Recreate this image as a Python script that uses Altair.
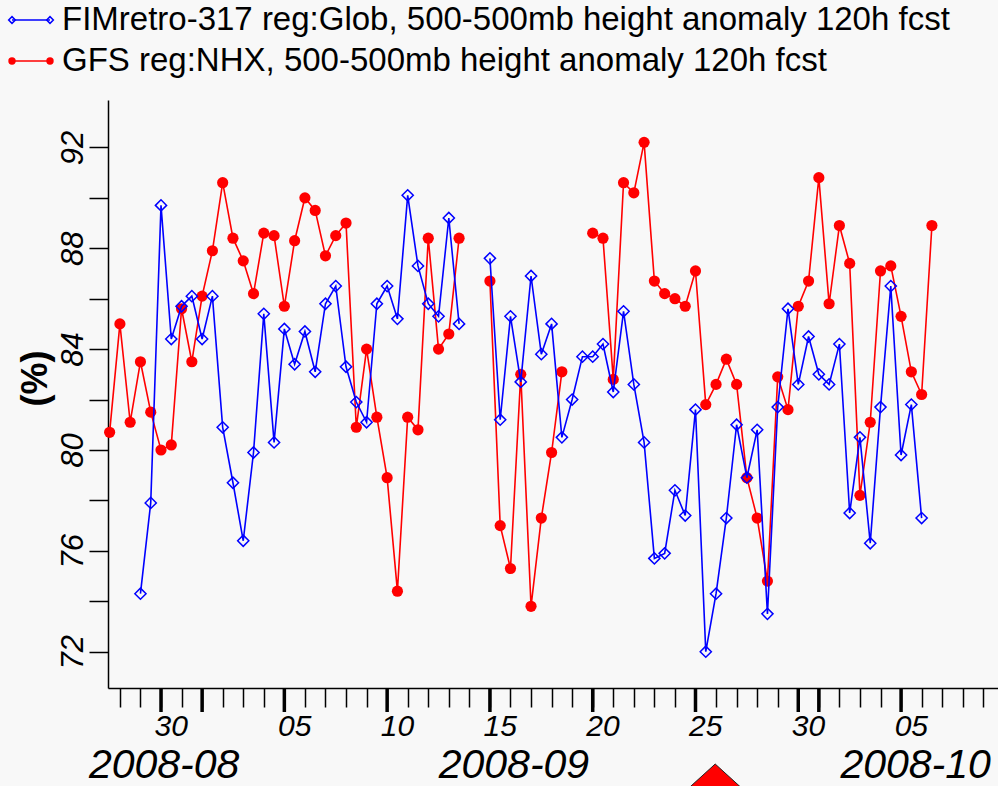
import altair as alt
import pandas as pd

# ---------------- data ----------------
start_time = "2008-08-27 12:00"   # first sample, 12-hourly samples
fim_name = "FIMretro-317 reg:Glob, 500-500mb height anomaly 120h fcst"
gfs_name = "GFS reg:NHX, 500-500mb height anomaly 120h fcst"

fim = [None, None, None, 74.3, 77.9, 89.7, 84.4, 85.7, 86.1, 84.4,
       86.1, 80.9, 78.7, 76.4, 79.9, 85.4, 80.3, 84.8, 83.4, 84.7,
       83.1, 85.8, 86.5, 83.3, 81.9, 81.1, 85.8, 86.5, 85.2, 90.1,
       87.3, 85.8, 85.3, 89.2, 85.0, None, None, 87.6, 81.2, 85.3,
       82.7, 86.9, 83.8, 85.0, 80.5, 82.0, 83.7, 83.7, 84.2, 82.3,
       85.5, 82.6, 80.3, 75.7, 75.9, 78.4, 77.4, 81.6, 72.0, 74.3,
       77.3, 81.0, 78.9, 80.8, 73.5, 81.7, 85.6, 82.6, 84.5, 83.0,
       82.6, 84.2, 77.5, 80.5, 76.3, 81.7, 86.5, 79.8, 81.8, 77.3,
       None]

gfs = [80.7, 85.0, 81.1, 83.5, 81.5, 80.0, 80.2, 85.6, 83.5, 86.1,
       87.9, 90.6, 88.4, 87.5, 86.2, 88.6, 88.5, 85.7, 88.3, 90.0,
       89.5, 87.7, 88.5, 89.0, 80.9, 84.0, 81.3, 78.9, 74.4, 81.3,
       80.8, 88.4, 84.0, 84.6, 88.4, None, None, 86.7, 77.0, 75.3,
       83.0, 73.8, 77.3, 79.9, 83.1, None, None, 88.6, 88.4, 82.8,
       90.6, 90.2, 92.2, 86.7, 86.2, 86.0, 85.7, 87.1, 81.8, 82.6,
       83.6, 82.6, 78.9, 77.3, 74.8, 82.9, 81.6, 85.7, 86.7, 90.8,
       85.8, 88.9, 87.4, 78.2, 81.1, 87.1, 87.3, 85.3, 83.1, 82.2,
       88.9]

x_range = ["2008-08-27 10:07", "2008-10-09 17:10"]
y_range = [70.56, 93.88]
y_ticks = [72, 74, 76, 78, 80, 82, 84, 86, 88, 90, 92]

first_tick, last_tick = "2008-08-28", "2008-10-09"
major_ticks = ["2008-08-30", "2008-09-01", "2008-09-05", "2008-09-10", "2008-09-15",
               "2008-09-20", "2008-09-25", "2008-09-30", "2008-10-01", "2008-10-05"]
day_label_dates = ["2008-08-30", "2008-09-05", "2008-09-10", "2008-09-15",
                   "2008-09-20", "2008-09-25", "2008-09-30", "2008-10-05"]
day_labels = ["30", "05", "10", "15", "20", "25", "30", "05"]
month_label_dates = ["2008-08-30 03:40", "2008-09-16 04:00", "2008-10-05 17:00"]
month_labels = ["2008-08", "2008-09", "2008-10"]
marker_dates = ["2008-09-25 23:00"]   # red slider marker under the axis

# ---------------- helpers ----------------
T0 = pd.Timestamp("2008-08-30")


def days(t):
    return float((pd.Timestamp(t) - T0) / pd.Timedelta(days=1))


times = pd.date_range(start_time, periods=len(gfs), freq="12h")


def series_frame(vals):
    rows, seg = [], 0
    for t, v in zip(times, vals):
        if v is None:
            seg += 1
            continue
        rows.append({"d": days(t), "v": v, "seg": seg})
    return pd.DataFrame(rows)


fim_df = series_frame(fim)
gfs_df = series_frame(gfs)

tick_df = pd.DataFrame({"d": [days(t) for t in pd.date_range(first_tick, last_tick, freq="D")]})
major_df = pd.DataFrame({"d": [days(t) for t in major_ticks]})
daylab_df = pd.DataFrame({"d": [days(t) + 0.5 for t in day_label_dates], "lab": day_labels})
monlab_df = pd.DataFrame({"d": [days(t) for t in month_label_dates], "lab": month_labels})
marker_df = pd.DataFrame({"d": [days(t) for t in marker_dates]})

W, H = 890, 588
FONT = "Liberation Sans"

x_axis = alt.Axis(values=list(tick_df["d"]), labels=False, title=None, grid=False,
                  tickSize=19, tickWidth=1.5, tickColor="black",
                  domainColor="black", domainWidth=1.5)
X = alt.X("d:Q", scale=alt.Scale(domain=[days(x_range[0]), days(x_range[1])], nice=False, zero=False),
          axis=x_axis)

y_axis = alt.Axis(values=y_ticks, labelExpr="datum.value % 4 == 0 ? datum.label : ''",
                  labelAngle=-90, labelAlign="center", labelBaseline="alphabetic",
                  labelPadding=7, labelFont=FONT, labelFontStyle="italic", labelFontSize=31,
                  labelColor="black", labelOverlap=False,
                  tickSize=19, tickWidth=1.5, tickColor="black",
                  domainColor="black", domainWidth=1.5, grid=False,
                  title="(%)", titleFont=FONT, titleFontSize=36, titleFontWeight="bold",
                  titleColor="black", titleAngle=270, titleAlign="center", titleBaseline="middle",
                  titleX=-73, titleY=278)
Y = alt.Y("v:Q", scale=alt.Scale(domain=y_range, nice=False, zero=False), axis=y_axis)

BLUE, RED = "#0000ff", "#ff0000"

gfs_line = alt.Chart(gfs_df).mark_line(color=RED, strokeWidth=1.6).encode(x=X, y=Y, detail="seg:N")
gfs_pts = alt.Chart(gfs_df).mark_circle(color=RED, size=125, opacity=1).encode(x=X, y=Y)
fim_line = alt.Chart(fim_df).mark_line(color=BLUE, strokeWidth=1.6).encode(x=X, y=Y, detail="seg:N")
fim_pts = alt.Chart(fim_df).mark_point(shape="diamond", filled=False, color=BLUE, size=125,
                                       strokeWidth=1.5, opacity=1).encode(x=X, y=Y)

major_rules = alt.Chart(major_df).mark_rule(color="black", strokeWidth=3.5).encode(
    x=X, y=alt.value(H), y2=alt.value(H + 24))
day_text = alt.Chart(daylab_df).mark_text(font=FONT, fontStyle="italic", fontSize=30,
                                          baseline="alphabetic", align="center", color="black").encode(
    x=X, y=alt.value(H + 48), text="lab:N")
month_text = alt.Chart(monlab_df).mark_text(font=FONT, fontStyle="italic", fontSize=41,
                                            baseline="alphabetic", align="center", color="black").encode(
    x=X, y=alt.value(H + 90), text="lab:N")
marker = alt.Chart(marker_df).mark_point(shape="M0,0L1.1,1L-1.1,1Z", filled=True, fill=RED,
                                         stroke="#222222", strokeWidth=1, size=3600,
                                         opacity=1).encode(x=X, y=alt.value(H + 76))


def legend_row(name, color, ypix, shape, filled, size):
    one = pd.DataFrame({"t": [name]})
    base = alt.Chart(one)
    line = base.mark_rule(color=color, strokeWidth=1.6).encode(
        x=alt.value(-96), x2=alt.value(-58), y=alt.value(ypix))
    p1 = base.mark_point(shape=shape, filled=filled, color=color, size=size, strokeWidth=1.5,
                         opacity=1).encode(x=alt.value(-96), y=alt.value(ypix))
    p2 = base.mark_point(shape=shape, filled=filled, color=color, size=size, strokeWidth=1.5,
                         opacity=1).encode(x=alt.value(-58), y=alt.value(ypix))
    txt = base.mark_text(font=FONT, fontSize=33, align="left", baseline="middle", color="black").encode(
        x=alt.value(-46), y=alt.value(ypix), text="t:N")
    return [line, p1, p2, txt]


legend_layers = legend_row(fim_name, BLUE, -80, "diamond", False, 45) + \
    legend_row(gfs_name, RED, -39, "circle", True, 55)

chart = alt.layer(
    gfs_line, gfs_pts, fim_line, fim_pts, major_rules, day_text, month_text, marker, *legend_layers
).properties(
    width=W, height=H,
    padding={"left": 108, "top": 100, "right": 0, "bottom": 98},
    autosize=alt.AutoSizeParams(type="none"),
).configure(background="#f8f8f8").configure_view(stroke=None)

chart.save("out.html", embed_options={"renderer": "svg", "actions": False})
